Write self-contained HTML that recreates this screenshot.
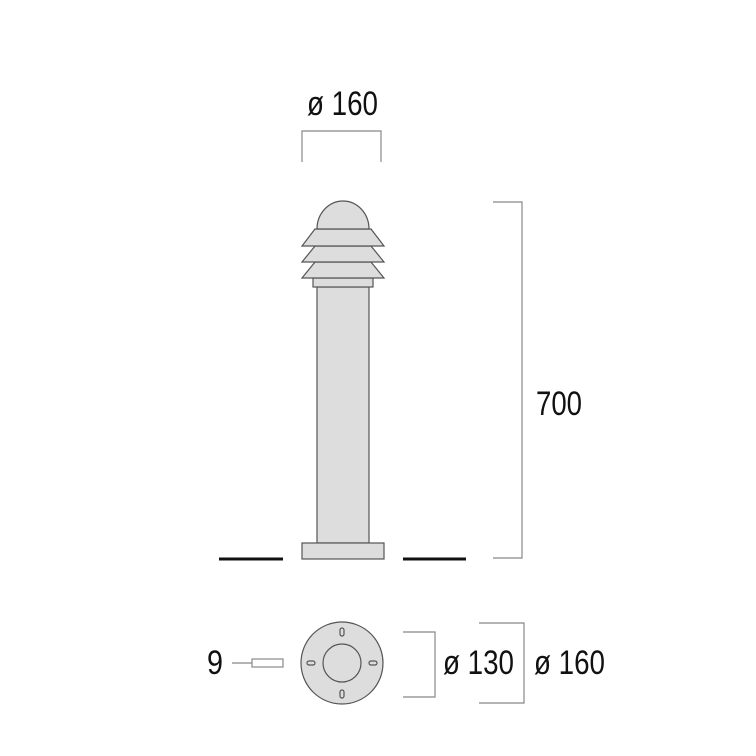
<!DOCTYPE html>
<html><head><meta charset="utf-8"><style>html,body{margin:0;padding:0;background:#fff}svg{display:block}</style></head>
<body>
<svg width="756" height="756" viewBox="0 0 756 756" xmlns="http://www.w3.org/2000/svg">
<g font-family="'Liberation Sans Narrow','Liberation Sans',sans-serif" font-size="34" fill="#111">
<text x="307" y="115" textLength="71" lengthAdjust="spacingAndGlyphs">ø 160</text>
<text x="536" y="415" textLength="46" lengthAdjust="spacingAndGlyphs">700</text>
<text x="207" y="674" textLength="16" lengthAdjust="spacingAndGlyphs">9</text>
<text x="443" y="674" textLength="71" lengthAdjust="spacingAndGlyphs">ø 130</text>
<text x="534" y="674" textLength="71" lengthAdjust="spacingAndGlyphs">ø 160</text>
</g>
<g fill="none" stroke="#888" stroke-width="1.2">
<polyline points="302,162 302,131 381,131 381,162"/>
<polyline points="493,202 522,202 522,558 493,558"/>
<polyline points="403,632 435,632 435,697 403,697"/>
<polyline points="479,623 524,623 524,703 479,703"/>
<line x1="232" y1="663" x2="252" y2="663"/>
<rect x="252" y="659" width="31" height="8"/>
</g>
<g stroke="#111" stroke-width="3">
<line x1="219" y1="559" x2="283" y2="559"/>
<line x1="403" y1="559" x2="466" y2="559"/>
</g>
<g fill="#ddd" stroke="#555" stroke-width="1.2">
<rect x="317" y="287" width="52" height="256"/>
<rect x="302" y="543" width="82" height="16"/>
<rect x="313" y="278" width="60" height="9"/>
<polygon points="315,262 371,262 384,278 302,278"/>
<polygon points="315,246 371,246 384,262 302,262"/>
<polygon points="315,229 371,229 384,246 302,246"/>
<path d="M317,229 A26,28 0 0 1 369,229 Z"/>
<circle cx="342" cy="663" r="41"/>
<circle cx="342" cy="663" r="19"/>
<rect x="340" y="628" width="4" height="8" rx="2"/>
<rect x="340" y="690" width="4" height="8" rx="2"/>
<rect x="307" y="661" width="8" height="4" rx="2"/>
<rect x="369" y="661" width="8" height="4" rx="2"/>
</g>
</svg>
</body></html>
